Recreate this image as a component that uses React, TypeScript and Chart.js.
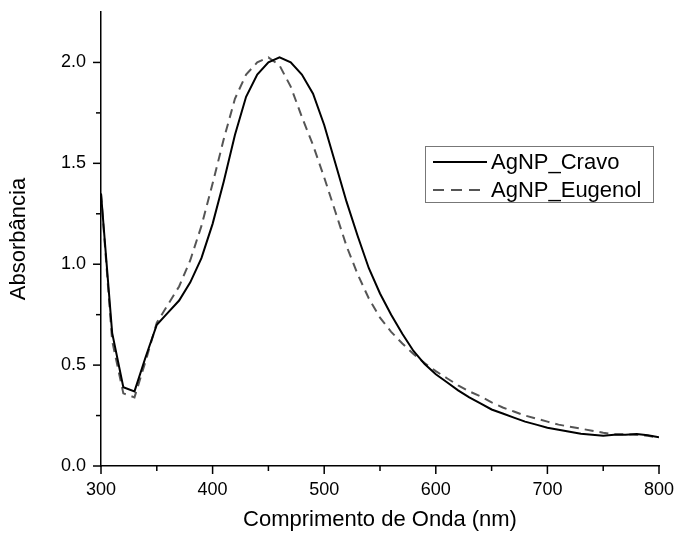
import React, { useEffect, useRef } from "react";
import { Chart, registerables } from "chart.js";

Chart.register(...registerables);

const wavelengths = [
  300, 310, 320, 330, 340, 350, 360, 370, 380, 390,
  400, 410, 420, 430, 440, 450, 460, 470, 480, 490,
  500, 510, 520, 530, 540, 550, 560, 570, 580, 590,
  600, 610, 620, 630, 640, 650, 660, 670, 680, 690,
  700, 710, 720, 730, 740, 750, 760, 770, 780, 790, 800,
];

const cravo = [
  1.35, 0.66, 0.39, 0.37, 0.54, 0.70, 0.76, 0.82, 0.91, 1.03,
  1.20, 1.41, 1.64, 1.83, 1.94, 2.00, 2.025, 2.00, 1.94, 1.845,
  1.69, 1.50, 1.31, 1.14, 0.98, 0.855, 0.75, 0.655, 0.57, 0.505,
  0.455, 0.415, 0.375, 0.34, 0.31, 0.28, 0.26, 0.24, 0.22, 0.205,
  0.19, 0.18, 0.17, 0.16, 0.155, 0.15, 0.155, 0.155, 0.158, 0.152, 0.142,
];

const eugenol = [
  1.35, 0.62, 0.36, 0.34, 0.52, 0.71, 0.80, 0.89, 1.02, 1.19,
  1.40, 1.62, 1.82, 1.94, 2.00, 2.025, 1.985, 1.88, 1.73, 1.59,
  1.43, 1.26, 1.09, 0.95, 0.83, 0.735, 0.665, 0.607, 0.555, 0.51,
  0.47, 0.435, 0.40, 0.37, 0.345, 0.315, 0.29, 0.27, 0.25, 0.235,
  0.22, 0.205, 0.195, 0.185, 0.175, 0.165, 0.157, 0.157, 0.155, 0.15, 0.14,
];

const seriesLabels = ["AgNP_Cravo", "AgNP_Eugenol"];
const xTicks = [300, 350, 400, 450, 500, 550, 600, 650, 700, 750, 800];
const yTicks = [0, 0.25, 0.5, 0.75, 1.0, 1.25, 1.5, 1.75, 2.0];
const xTitle = "Comprimento de Onda (nm)";
const yTitle = "Absorbância";

const FONT = '"Liberation Sans", Arial, sans-serif';

const ticksPlugin = {
  id: "customTicksLegend",
  afterDraw(chart: any) {
    const ctx = chart.ctx;
    const xs = chart.scales.x;
    const ys = chart.scales.y;
    const area = chart.chartArea;
    ctx.save();
    ctx.strokeStyle = "#000";
    ctx.lineWidth = 1.5;
    xTicks.forEach((v) => {
      const px = xs.getPixelForValue(v);
      const len = v % 100 === 0 ? 8 : 5;
      ctx.beginPath();
      ctx.moveTo(px, area.bottom);
      ctx.lineTo(px, area.bottom + len);
      ctx.stroke();
    });
    yTicks.forEach((v) => {
      const py = ys.getPixelForValue(v);
      const len = Math.abs((v * 2) % 1) < 1e-6 ? 8 : 5;
      ctx.beginPath();
      ctx.moveTo(area.left, py);
      ctx.lineTo(area.left - len, py);
      ctx.stroke();
    });

    // legend
    const bx = 425, by = 146, bw = 228, bh = 56;
    ctx.strokeStyle = "#777";
    ctx.lineWidth = 1;
    ctx.strokeRect(bx + 0.5, by + 0.5, bw, bh);
    const rows = [162, 190];
    chart.data.datasets.forEach((ds: any, i: number) => {
      const y = rows[i];
      ctx.beginPath();
      ctx.strokeStyle = ds.borderColor;
      ctx.lineWidth = 2;
      ctx.setLineDash(i === 1 ? [11, 7] : []);
      ctx.moveTo(433, y);
      ctx.lineTo(487, y);
      ctx.stroke();
      ctx.setLineDash([]);
      ctx.fillStyle = "#000";
      ctx.font = `22px ${FONT}`;
      ctx.textBaseline = "middle";
      ctx.textAlign = "left";
      ctx.fillText(ds.label, 491, y + 1);
    });
    ctx.restore();
  },
};

function zeroPad(scale: any) {
  scale.paddingTop = 0;
  scale.paddingBottom = 0;
  scale.paddingLeft = 0;
  scale.paddingRight = 0;
}

export default function App() {
  const ref = useRef<HTMLCanvasElement | null>(null);

  useEffect(() => {
    if (!ref.current) return;
    const chart = new Chart(ref.current, {
      type: "line",
      data: {
        datasets: [
          {
            label: seriesLabels[0],
            data: wavelengths.map((x, i) => ({ x, y: cravo[i] })),
            borderColor: "#000000",
            borderWidth: 2,
            pointRadius: 0,
            tension: 0,
            fill: false,
          },
          {
            label: seriesLabels[1],
            data: wavelengths.map((x, i) => ({ x, y: eugenol[i] })),
            borderColor: "#555555",
            borderWidth: 2,
            borderDash: [9, 6],
            pointRadius: 0,
            tension: 0,
            fill: false,
          },
        ],
      },
      options: {
        responsive: false,
        animation: false,
        layout: { padding: { top: 12, right: 16, left: 0, bottom: 0 } },
        plugins: {
          legend: { display: false },
          tooltip: { enabled: false },
        },
        scales: {
          x: {
            type: "linear",
            min: 300,
            max: 800,
            afterBuildTicks: (scale: any) => {
              scale.ticks = xTicks.map((v) => ({ value: v }));
            },
            afterFit: (scale: any) => {
              scale.height = 69;
              zeroPad(scale);
            },
            ticks: {
              autoSkip: false,
              maxRotation: 0,
              padding: 13,
              color: "#000",
              font: { family: FONT, size: 18 },
              callback: (v: any) => (Number(v) % 100 === 0 ? String(v) : ""),
            },
            grid: { display: true, drawOnChartArea: false, drawTicks: false },
            border: { display: true, color: "#000", width: 1.5 },
            title: {
              display: true,
              text: xTitle,
              color: "#000",
              font: { family: FONT, size: 22 },
              padding: { top: 0, bottom: 2 },
            },
          },
          y: {
            type: "linear",
            min: 0,
            max: 2.25,
            afterBuildTicks: (scale: any) => {
              scale.ticks = yTicks.map((v) => ({ value: v }));
            },
            afterFit: (scale: any) => {
              scale.width = 101;
              zeroPad(scale);
            },
            ticks: {
              autoSkip: false,
              padding: 15,
              color: "#000",
              font: { family: FONT, size: 18 },
              callback: (v: any) =>
                Math.abs((Number(v) * 2) % 1) < 1e-6 ? Number(v).toFixed(1) : "",
            },
            grid: { display: true, drawOnChartArea: false, drawTicks: false },
            border: { display: true, color: "#000", width: 1.5 },
            title: {
              display: true,
              text: yTitle,
              color: "#000",
              font: { family: FONT, size: 22 },
              padding: { top: 6, bottom: 0 },
            },
          },
        },
      },
      plugins: [ticksPlugin],
    });
    return () => chart.destroy();
  }, []);

  return (
    <div style={{ position: "absolute", left: 0, top: 0, width: 675, height: 535, background: "#fff" }}>
      <canvas ref={ref} width={675} height={535} style={{ width: 675, height: 535 }} />
    </div>
  );
}
